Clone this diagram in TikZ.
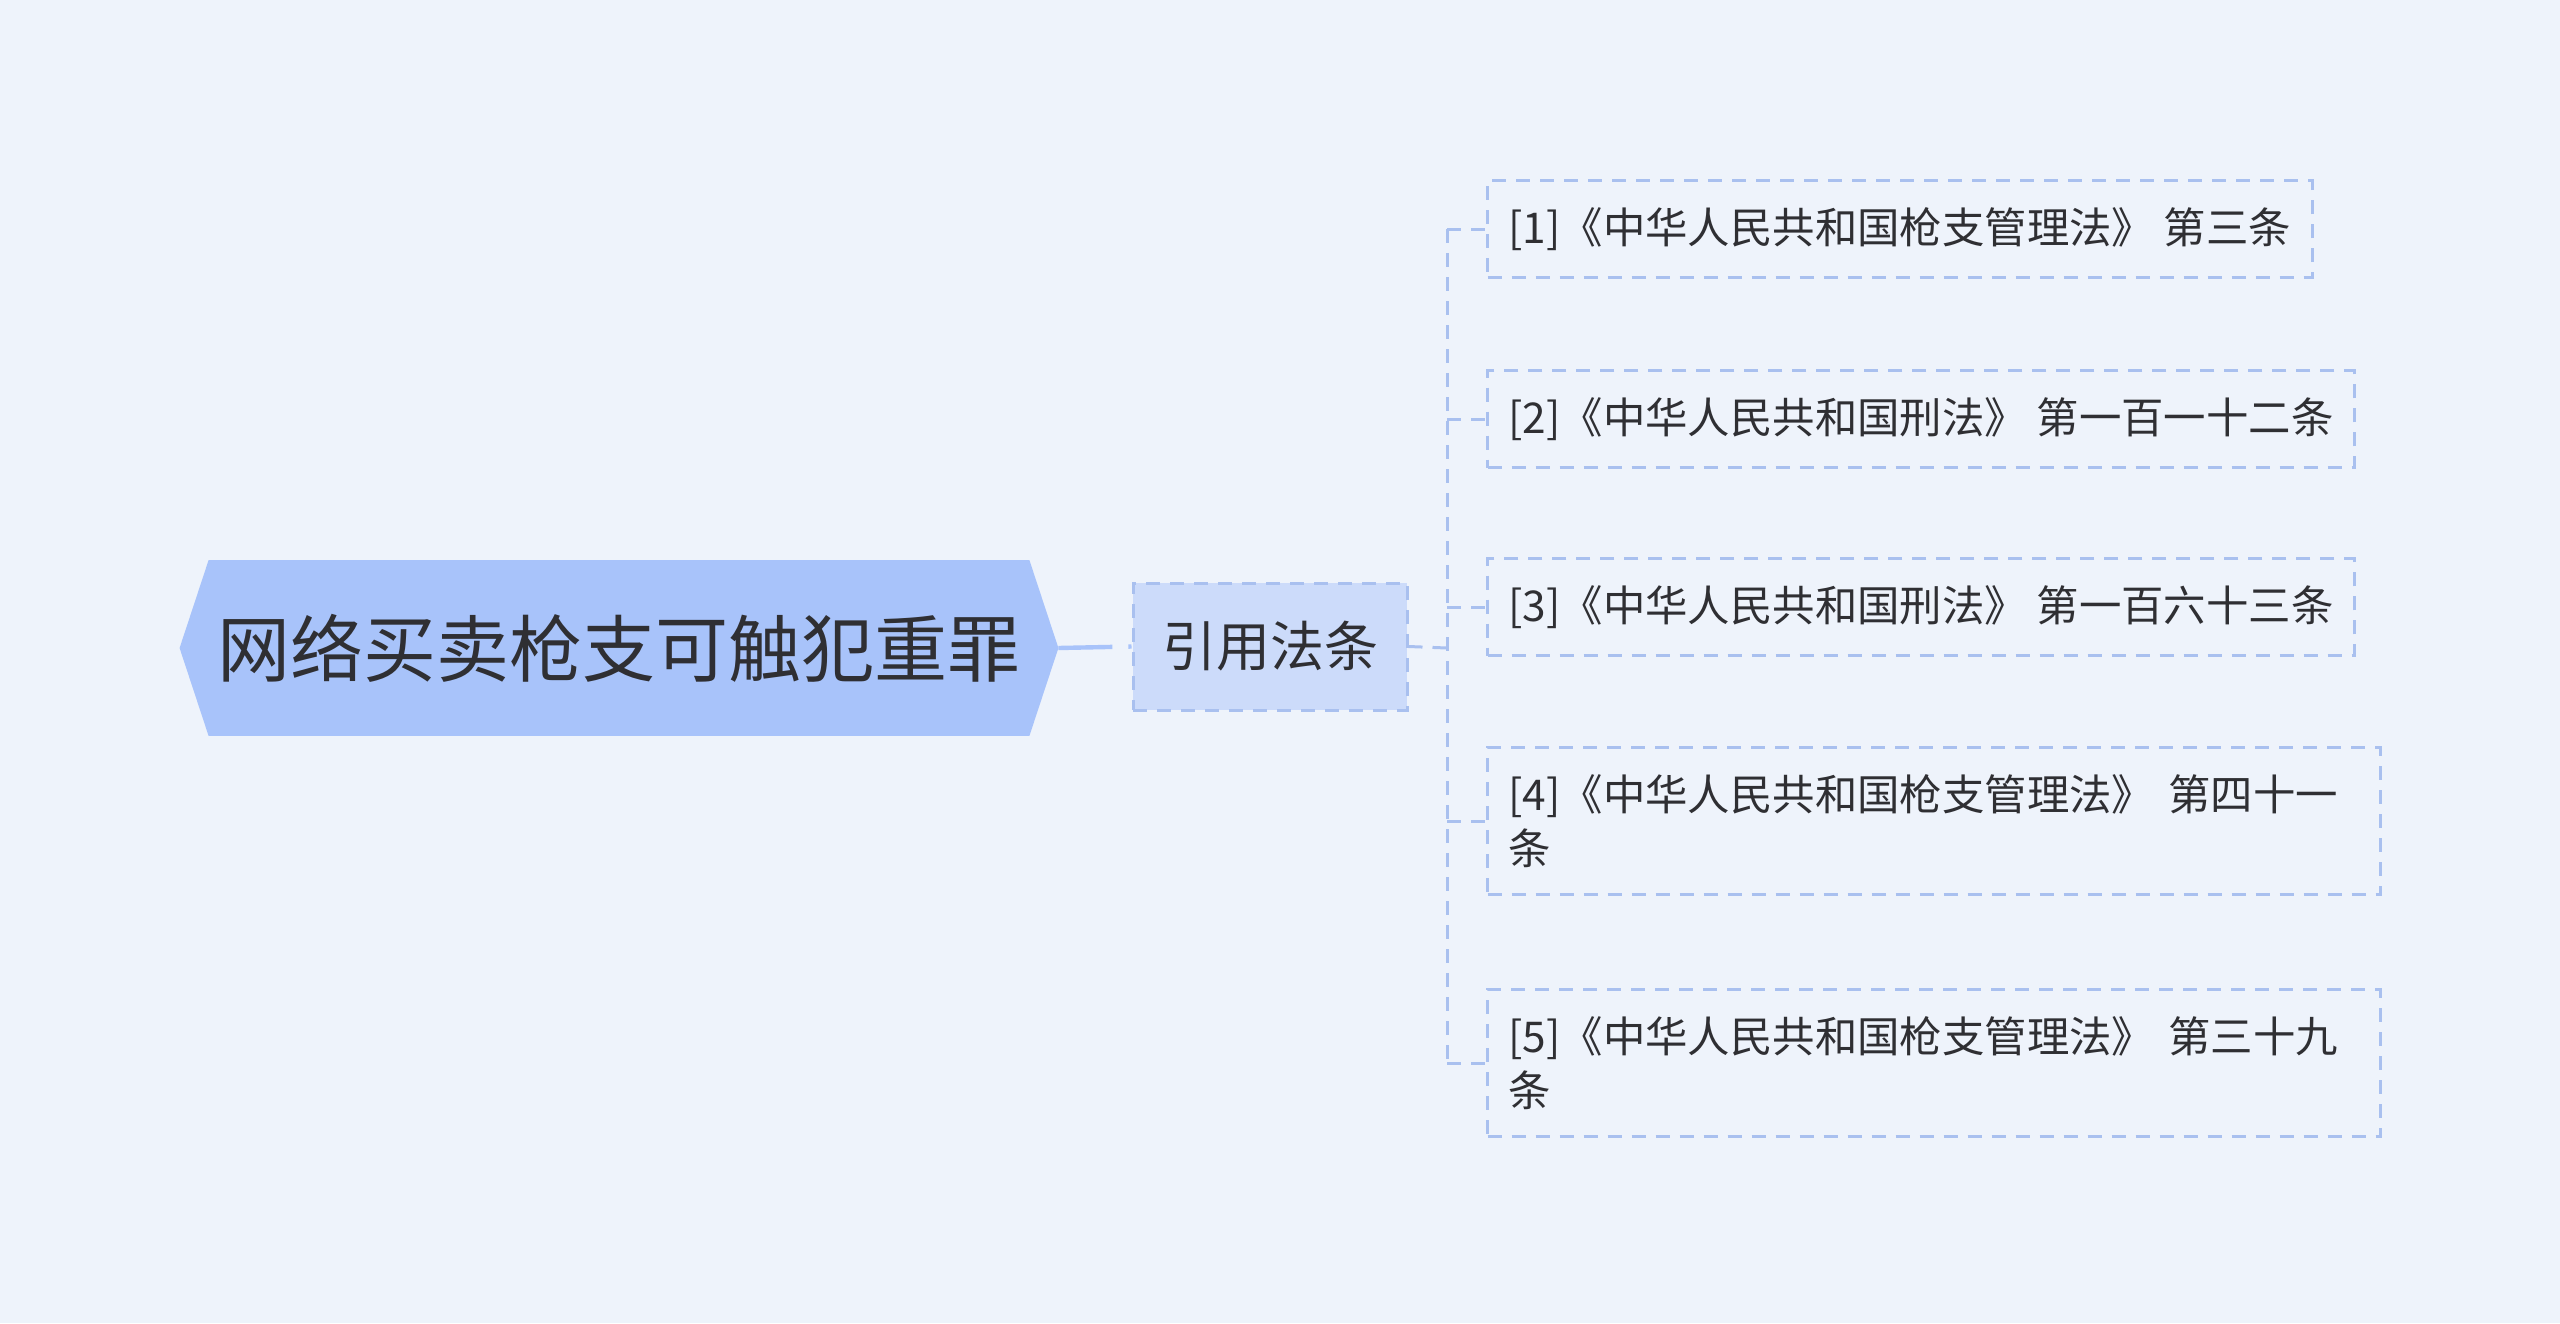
\documentclass[tikz,border=0pt]{standalone}
\usepackage{fontspec}
\setmainfont{Noto Sans CJK SC}
\usetikzlibrary{backgrounds}
\definecolor{pagebg}{HTML}{EEF3FB}
\definecolor{rootblue}{HTML}{A8C3FA}
\definecolor{citeblue}{HTML}{CCDBFA}
\definecolor{linkblue}{HTML}{A9C0EF}
\definecolor{inkgray}{HTML}{2F2F33}

\begin{document}
\begin{tikzpicture}[x=0.5pt,y=-0.5pt,
  roottext/.style={inner sep=0pt, minimum width=410pt, minimum height=87.5pt,
    text=inkgray, font=\fontsize{36.5pt}{44pt}\selectfont},
  citebox/.style={draw=linkblue, fill=citeblue, line width=1.5pt,
    dash pattern=on 7pt off 5pt, minimum width=137pt, minimum height=63.5pt,
    inner sep=0pt, text=inkgray, font=\fontsize{27pt}{32pt}\selectfont},
  leafbox/.style={draw=linkblue, line width=1.5pt, dash pattern=on 7pt off 5pt,
    anchor=west, align=left, inner xsep=10.5pt, inner ysep=13.5pt,
    minimum height=48.5pt, text=inkgray, font=\fontsize{21.2pt}{27pt}\selectfont},
  link/.style={draw=linkblue, line width=1.5pt, dash pattern=on 7pt off 5pt},
  rootlink/.style={draw=rootblue, line width=2.2pt, dash pattern=on 27pt off 8pt}]
\useasboundingbox (0,0) rectangle (2560,1323);
%
\node[roottext] (root) at (619,648) {网络买卖枪支可触犯重罪};
\node[citebox] (cite) at (1270,646.5) {引用法条};
%
\node[leafbox] (leaf1) at (1486,229) {[1]《中华人民共和国枪支管理法》 第三条};
\node[leafbox] (leaf2) at (1486,419) {[2]《中华人民共和国刑法》 第一百一十二条};
\node[leafbox] (leaf3) at (1486,607) {[3]《中华人民共和国刑法》 第一百六十三条};
\node[leafbox, text width=425.5pt] (leaf4) at (1486,821) {[4]《中华人民共和国枪支管理法》 第四十一\\条};
\node[leafbox, text width=425.5pt] (leaf5) at (1486,1063) {[5]《中华人民共和国枪支管理法》 第三十九\\条};
%
\coordinate (trunk) at (1447,648);
\coordinate (roottip) at ([xshift=14.5pt]root.east);
\draw[rootlink] (roottip) -- (cite.west);
\draw[link] (cite.east) -- (trunk);
\draw[link] (trunk |- leaf1.west) -- (trunk |- leaf5.west);
\foreach \i in {1,...,5}
  \draw[link] (trunk |- leaf\i.west) -- (leaf\i.west);
%
\begin{scope}[on background layer]
\fill[pagebg] (0,0) rectangle (2560,1323);
\fill[rootblue] (root.north west) -- (root.north east) -- (roottip)
  -- (root.south east) -- (root.south west) -- ([xshift=-14.5pt]root.west) -- cycle;
\end{scope}
\end{tikzpicture}
\end{document}
